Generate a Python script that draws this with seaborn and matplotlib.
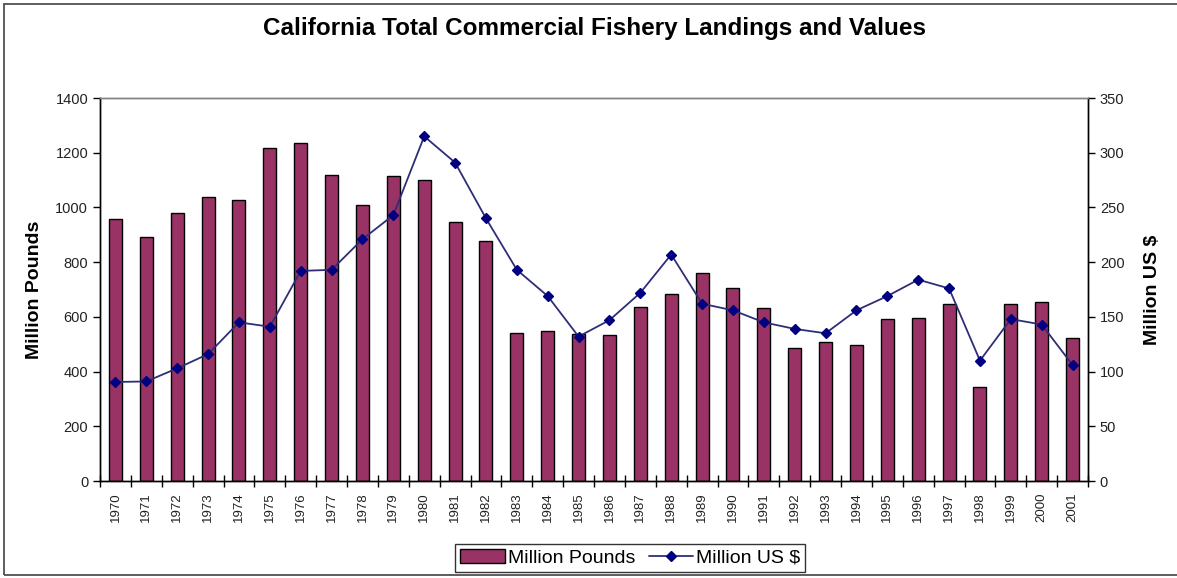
import numpy as np
import pandas as pd
import matplotlib
matplotlib.use("Agg")
import matplotlib.pyplot as plt
from matplotlib.patches import Rectangle
from matplotlib.lines import Line2D
from matplotlib.ticker import MultipleLocator, FixedLocator
import seaborn as sns

years = [str(y) for y in range(1970, 2002)]
million_pounds = [958, 892, 980, 1038, 1027, 1217, 1235, 1118, 1009, 1115,
                  1100, 947, 877, 541, 547, 538, 534, 636, 683, 760,
                  705, 632, 486, 508, 497, 593, 595, 647, 343, 647,
                  654, 523]
million_usd = [90.5, 91, 103, 116, 145, 141, 192, 193, 221, 243,
               315, 291, 240, 193, 169, 132, 147, 172, 207, 162,
               156, 145, 139, 135, 156, 169, 184, 176, 110, 148,
               143, 106]

df = pd.DataFrame({"Year": years, "Pounds": million_pounds, "USD": million_usd})

sns.set_theme(style="white")
plt.rcParams["font.family"] = ["Liberation Sans", "DejaVu Sans"]
plt.rcParams["text.color"] = "black"
plt.rcParams["axes.labelcolor"] = "black"

bar_color = "#993366"
line_color = "#000080"
line_stroke = "#2e2e78"

fig = plt.figure(figsize=(11.77, 5.78), dpi=100)
ax = fig.add_axes([0.085, 0.1678, 0.8394, 0.6626])

sns.barplot(data=df, x="Year", y="Pounds", color=bar_color, width=0.42,
            edgecolor="black", linewidth=1.0, saturation=1, ax=ax)
ax.set_ylim(0, 1400)
ax.set_xlim(-0.5, len(years) - 0.5)
ax.yaxis.set_major_locator(MultipleLocator(200))

ax2 = ax.twinx()
sns.pointplot(data=df, x="Year", y="USD", color=line_color, markers="D",
              markersize=5, linewidth=1.3, ax=ax2)
for ln in ax2.lines:
    ln.set_color(line_stroke)
    ln.set_markerfacecolor(line_color)
    ln.set_markeredgecolor(line_color)
ax2.set_ylim(0, 350)
ax2.set_xlim(-0.5, len(years) - 0.5)
ax2.yaxis.set_major_locator(MultipleLocator(50))

# Spines: black axes, grey top border
for a in (ax, ax2):
    for side in ("left", "right", "bottom"):
        a.spines[side].set_color("black")
        a.spines[side].set_linewidth(1.0)
    a.spines["top"].set_color("#808080")
    a.spines["top"].set_linewidth(1.0)

# Category tick labels centred, cross ticks at category boundaries
ax.set_xticks(range(len(years)))
ax.set_xticklabels(years, rotation=90, fontsize=9.5)
ax.tick_params(axis="x", which="major", length=0, pad=8, labelcolor="#222222")
ax.xaxis.set_minor_locator(FixedLocator(np.arange(-0.5, len(years), 1.0)))
ax.tick_params(axis="x", which="minor", direction="inout", length=8,
               width=1, color="black", bottom=True)

ax.tick_params(axis="y", which="major", direction="out", length=5, width=1,
               color="black", labelsize=10.5, labelcolor="#222222", left=True)
ax2.tick_params(axis="y", which="major", direction="out", length=5, width=1,
                color="black", labelsize=10.5, labelcolor="#222222", right=True)

ax.set_xlabel("")
ax.set_ylabel("Million Pounds", fontsize=14, fontweight="bold", labelpad=9,
              color="black")
ax2.set_ylabel("Million US $", fontsize=14, fontweight="bold", labelpad=14,
               color="black")
ax2.set_xlabel("")

fig.text(0.505, 0.951, "California Total Commercial Fishery Landings and Values",
         ha="center", va="center", fontsize=17.5, fontweight="bold", color="black")

handles = [Rectangle((0, 0), 1, 1, facecolor=bar_color, edgecolor="black", linewidth=1),
           Line2D([0], [0], color=line_stroke, marker="D", markersize=5,
                  markerfacecolor=line_color, markeredgecolor=line_color, linewidth=1.3)]
leg = fig.legend(handles, ["Million Pounds", "Million US $"], loc="center",
                 bbox_to_anchor=(0.5355, 0.0346), ncol=2, fontsize=14, frameon=True,
                 fancybox=False, edgecolor="black", handlelength=2.3,
                 handleheight=0.75, handletextpad=0.15, columnspacing=0.7,
                 borderpad=0.25, borderaxespad=0)
leg.get_frame().set_linewidth(1.0)
for t in leg.get_texts():
    t.set_color("black")

# Outer frame around the chart
fig.patches.append(Rectangle((4 / 1177, 3 / 578), 1.01, 571 / 578,
                             transform=fig.transFigure, fill=False,
                             edgecolor="#505050", linewidth=1.3, clip_on=False))

fig.savefig("out.png", dpi=100, facecolor="white")
